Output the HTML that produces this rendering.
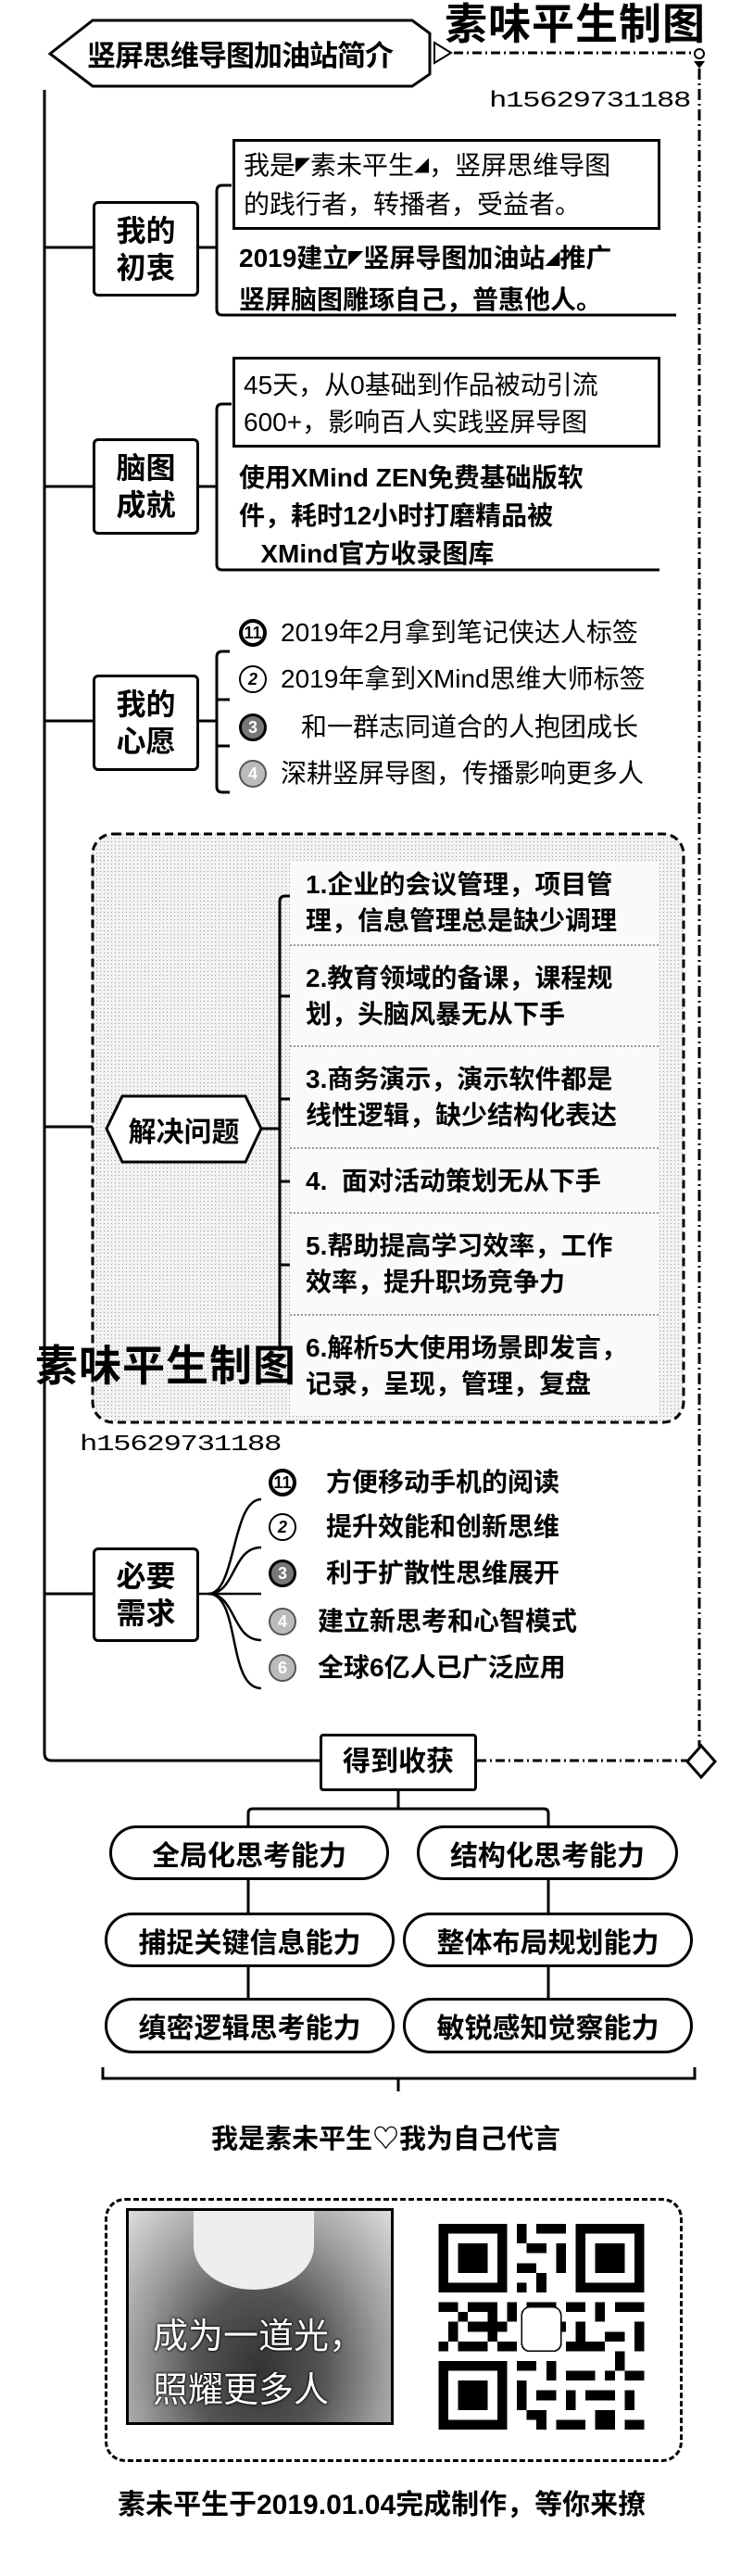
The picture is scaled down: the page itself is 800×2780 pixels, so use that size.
<!DOCTYPE html>
<html><head><meta charset="utf-8">
<style>
*{margin:0;padding:0;box-sizing:border-box}
body{width:800px;height:2780px;background:#fff;position:relative;overflow:hidden;font-family:"Liberation Sans","Noto Sans CJK SC",sans-serif;color:#000}
.a{position:absolute;white-space:nowrap}
.b{font-weight:bold}
.node{position:absolute;border:3px solid #000;border-radius:6px;background:#fff;font-weight:bold;font-size:32px;line-height:40px;text-align:center;display:flex;align-items:center;justify-content:center}
.tb{position:absolute;border:3px solid #000;background:#fff;font-size:28px;line-height:40px;padding-left:9px;padding-top:8px}
.t{font-size:28px;line-height:40px}
.pill{position:absolute;border:3px solid #000;border-radius:30px;background:#fff;font-weight:bold;font-size:30px;display:flex;align-items:center;justify-content:center}
.it{position:absolute;left:313px;width:398px;background:#fafafa;border-bottom:2px dotted #999;font-weight:bold;font-size:28px;line-height:39px;padding-left:17px;display:flex;flex-direction:column;justify-content:center}
.c{position:absolute;width:30px;height:30px;border-radius:50%;font-size:18px;font-weight:bold;display:flex;align-items:center;justify-content:center}
.sm{font-size:16px;vertical-align:middle}
.hn{font-size:24px;line-height:28px;font-family:'Liberation Mono',monospace;letter-spacing:-1px;transform:scaleX(1.35);transform-origin:0 0}
</style></head><body>

<svg class="a" style="left:0;top:0" width="800" height="2780">
<polygon points="54,58 100,22 445,22 464,36 464,80 445,93 100,93" fill="#fff" stroke="#000" stroke-width="3"/>
<polygon points="469,46 487,57 469,68" fill="#fff" stroke="#000" stroke-width="2"/>
<line x1="490" y1="57" x2="752" y2="57" stroke="#000" stroke-width="3" stroke-dasharray="10,4,2,4"/>
<circle cx="755" cy="58" r="5" fill="#fff" stroke="#000" stroke-width="2"/>
<polygon points="749,66 761,66 755,74" fill="#000"/>
<line x1="755" y1="74" x2="755" y2="1885" stroke="#000" stroke-width="3" stroke-dasharray="12,4,2,4"/>
<path d="M48,97 V1892 Q48,1900 56,1900 H345" fill="none" stroke="#000" stroke-width="3"/>
<line x1="48" y1="267" x2="100" y2="267" stroke="#000" stroke-width="3"/>
<line x1="48" y1="525" x2="100" y2="525" stroke="#000" stroke-width="3"/>
<line x1="48" y1="778" x2="100" y2="778" stroke="#000" stroke-width="3"/>
<line x1="48" y1="1216" x2="115" y2="1216" stroke="#000" stroke-width="3"/>
<line x1="48" y1="1720" x2="100" y2="1720" stroke="#000" stroke-width="3"/>
<line x1="215" y1="267" x2="234" y2="267" stroke="#000" stroke-width="3"/>
<path d="M250,200 H240 Q234,200 234,206 V334 Q234,340 240,340 H730" fill="none" stroke="#000" stroke-width="3"/>
<line x1="215" y1="525" x2="234" y2="525" stroke="#000" stroke-width="3"/>
<path d="M250,436 H240 Q234,436 234,442 V609 Q234,615 240,615 H712" fill="none" stroke="#000" stroke-width="3"/>
<line x1="215" y1="778" x2="234" y2="778" stroke="#000" stroke-width="3"/>
<path d="M248,703 H240 Q234,703 234,709 V849 Q234,855 240,855 H248 M234,755 H248 M234,805 H248" fill="none" stroke="#000" stroke-width="3"/>
<defs><pattern id="dots" width="4" height="4" patternUnits="userSpaceOnUse"><rect width="4" height="4" fill="#f2f2f2"/><rect width="1" height="1" fill="#999"/></pattern></defs>
<rect x="100" y="900" width="638" height="635" rx="22" fill="url(#dots)" stroke="#000" stroke-width="3" stroke-dasharray="9,5"/>
</svg>

<div class="a b" style="left:54px;top:22px;width:410px;height:71px;font-size:31px;display:flex;align-items:center;justify-content:center;letter-spacing:-1px">竖屏思维导图加油站简介</div>
<div class="a b" style="left:480px;top:0px;font-size:46px;line-height:52px;letter-spacing:1px">素味平生制图</div>
<div class="a hn" style="left:528px;top:96px">h15629731188</div>

<div class="node" style="left:100px;top:217px;width:115px;height:103px">我的<br>初衷</div>
<div class="tb" style="left:251px;top:150px;width:462px;height:98px;padding-top:6px">我是<span class="sm">◤</span>素未平生<span class="sm">◢</span>，竖屏思维导图<br>的践行者，转播者，受益者。</div>
<div class="a b t" style="left:258px;top:257px;line-height:43px">2019建立<span class="sm">◤</span>竖屏导图加油站<span class="sm">◢</span>推广<br>竖屏脑图雕琢自己，普惠他人。</div>

<div class="node" style="left:100px;top:473px;width:115px;height:104px">脑图<br>成就</div>
<div class="tb" style="left:251px;top:385px;width:462px;height:98px">45天，从0基础到作品被动引流<br>600+，影响百人实践竖屏导图</div>
<div class="a b t" style="left:258px;top:495px;line-height:41px">使用XMind ZEN免费基础版软<br>件，耗时12小时打磨精品被<br>&nbsp;&nbsp;&nbsp;XMind官方收录图库</div>

<div class="node" style="left:100px;top:728px;width:115px;height:104px">我的<br>心愿</div>
<div class="c" style="left:258px;top:668px;border:4px solid #000">11</div>
<div class="a t" style="left:303px;top:663px">2019年2月拿到笔记侠达人标签</div>
<div class="c" style="left:258px;top:718px;border:2px solid #000;font-style:italic">2</div>
<div class="a t" style="left:303px;top:713px">2019年拿到XMind思维大师标签</div>
<div class="c" style="left:258px;top:770px;border:3px solid #000;background:#777;color:#fff">3</div>
<div class="a t" style="left:325px;top:765px">和一群志同道合的人抱团成长</div>
<div class="c" style="left:258px;top:820px;border:2px solid #555;background:#bbb;color:#fff">4</div>
<div class="a t" style="left:303px;top:815px">深耕竖屏导图，传播影响更多人</div>

<div class="it" style="top:929px;height:92px">1.企业的会议管理，项目管<br>理，信息管理总是缺少调理</div>
<div class="it" style="top:1021px;height:109px"><span>2.教育领域的备课，课程规<br>划，头脑风暴无从下手</span></div>
<div class="it" style="top:1130px;height:110px"><span>3.商务演示，演示软件都是<br>线性逻辑，缺少结构化表达</span></div>
<div class="it" style="top:1240px;height:70px"><span>4.&nbsp;&nbsp;面对活动策划无从下手</span></div>
<div class="it" style="top:1310px;height:110px"><span>5.帮助提高学习效率，工作<br>效率，提升职场竞争力</span></div>
<div class="it" style="top:1420px;height:108px;border-bottom:none"><span>6.解析5大使用场景即发言，<br>记录，呈现，管理，复盘</span></div>
<svg class="a" style="left:0;top:0" width="800" height="2780">
<line x1="282" y1="1218" x2="302" y2="1218" stroke="#000" stroke-width="3"/>
<path d="M313,967 H308 Q302,967 302,973 V1458 M302,1075 H313 M302,1186 H313 M302,1275 H313 M302,1365 H313" fill="none" stroke="#000" stroke-width="3"/>
<polygon points="115,1218 132,1183 265,1183 282,1218 265,1254 132,1254" fill="#fff" stroke="#000" stroke-width="3"/>
</svg>
<div class="a b" style="left:115px;top:1183px;width:167px;height:71px;font-size:30px;display:flex;align-items:center;justify-content:center">解决问题</div>
<div class="a b" style="left:38px;top:1448px;font-size:46px;line-height:52px;letter-spacing:1px">素味平生制图</div>
<div class="a hn" style="left:86px;top:1546px">h15629731188</div>

<svg class="a" style="left:0;top:0" width="800" height="2780">
<g fill="none" stroke="#000" stroke-width="2.5">
<line x1="215" y1="1720" x2="282" y2="1720"/>
<path d="M225,1720 C255,1720 250,1618 282,1618"/>
<path d="M225,1720 C255,1720 250,1670 282,1670"/>
<path d="M225,1720 C255,1720 250,1770 282,1770"/>
<path d="M225,1720 C260,1720 245,1822 282,1822"/>
</g>
<line x1="515" y1="1900" x2="742" y2="1900" stroke="#000" stroke-width="3" stroke-dasharray="10,4,2,4"/>
<polygon points="757,1884 772,1901 757,1918 742,1901" fill="#fff" stroke="#000" stroke-width="3"/>
<g fill="none" stroke="#000" stroke-width="3">
<path d="M430,1933 V1952 M268,1970 V1957 Q268,1952 273,1952 H587 Q592,1952 592,1957 V1970"/>
<line x1="268" y1="2029" x2="268" y2="2064"/>
<line x1="592" y1="2029" x2="592" y2="2064"/>
<line x1="268" y1="2123" x2="268" y2="2156"/>
<line x1="592" y1="2123" x2="592" y2="2156"/>
<path d="M111,2231 V2243 H750 V2231 M430,2243 V2257"/>
</g>
</svg>
<div class="node" style="left:100px;top:1670px;width:115px;height:102px">必要<br>需求</div>
<div class="c" style="left:290px;top:1585px;border:4px solid #000">11</div>
<div class="a b t" style="left:352px;top:1580px">方便移动手机的阅读</div>
<div class="c" style="left:290px;top:1633px;border:2px solid #000;font-style:italic">2</div>
<div class="a b t" style="left:352px;top:1628px">提升效能和创新思维</div>
<div class="c" style="left:290px;top:1683px;border:3px solid #000;background:#777;color:#fff">3</div>
<div class="a b t" style="left:352px;top:1678px">利于扩散性思维展开</div>
<div class="c" style="left:290px;top:1735px;border:2px solid #555;background:#bbb;color:#fff">4</div>
<div class="a b t" style="left:343px;top:1730px">建立新思考和心智模式</div>
<div class="c" style="left:290px;top:1785px;border:2px solid #555;background:#bbb;color:#fff">6</div>
<div class="a b t" style="left:343px;top:1780px">全球6亿人已广泛应用</div>

<div class="node" style="left:345px;top:1871px;width:170px;height:62px;border-radius:4px;font-size:30px">得到收获</div>
<div class="pill" style="left:118px;top:1970px;width:302px;height:59px">全局化思考能力</div>
<div class="pill" style="left:450px;top:1970px;width:282px;height:59px">结构化思考能力</div>
<div class="pill" style="left:113px;top:2064px;width:313px;height:59px">捕捉关键信息能力</div>
<div class="pill" style="left:435px;top:2064px;width:313px;height:59px">整体布局规划能力</div>
<div class="pill" style="left:113px;top:2156px;width:313px;height:60px">缜密逻辑思考能力</div>
<div class="pill" style="left:435px;top:2156px;width:313px;height:60px">敏锐感知觉察能力</div>

<div class="a b" style="left:228px;top:2291px;font-size:29px;line-height:36px">我是素未平生♡我为自己代言</div>

<div class="a" style="left:113px;top:2372px;width:624px;height:285px;border:3px dashed #000;border-radius:22px"></div>
<div class="a" style="left:136px;top:2383px;width:289px;height:234px;border:3px solid #000;overflow:hidden;background:radial-gradient(ellipse at 50% 75%,#333 0%,#555 35%,#999 65%,#ddd 100%)">
<div class="a" style="left:70px;top:-10px;width:130px;height:95px;background:#eee;border-radius:0 0 50% 50%"></div>
<div class="a" style="left:26px;top:107px;font-size:38px;line-height:58px;color:#fff;text-shadow:0 0 3px #000,0 0 2px #000">成为一道光，<br>照耀更多人</div>
</div>
<svg class="a" style="left:472px;top:2400px" width="225" height="222" viewBox="0 0 21 21" shape-rendering="crispEdges">
<g fill="#000">
<path d="M0,0h7v7h-7zM1,1v5h5v-5zM2,2h3v3h-3z" fill-rule="evenodd"/>
<path d="M14,0h7v7h-7zM15,1v5h5v-5zM16,2h3v3h-3z" fill-rule="evenodd"/>
<path d="M0,14h7v7h-7zM1,15v5h5v-5zM2,16h3v3h-3z" fill-rule="evenodd"/>
<rect x="8" y="0" width="1" height="2"/><rect x="10" y="0" width="3" height="1"/><rect x="9" y="2" width="2" height="1"/><rect x="12" y="2" width="1" height="3"/><rect x="8" y="4" width="2" height="1"/><rect x="10" y="5" width="1" height="2"/><rect x="8" y="6" width="1" height="1"/>
<rect x="0" y="8" width="2" height="1"/><rect x="3" y="8" width="3" height="1"/><rect x="7" y="8" width="1" height="2"/><rect x="9" y="8" width="3" height="1"/><rect x="13" y="8" width="2" height="1"/><rect x="16" y="8" width="1" height="2"/><rect x="18" y="8" width="3" height="1"/>
<rect x="1" y="10" width="1" height="2"/><rect x="3" y="10" width="2" height="1"/><rect x="5" y="9" width="1" height="3"/><rect x="11" y="10" width="2" height="1"/><rect x="14" y="10" width="1" height="2"/><rect x="17" y="11" width="2" height="1"/><rect x="20" y="10" width="1" height="3"/>
<rect x="0" y="12" width="1" height="1"/><rect x="2" y="12" width="3" height="1"/><rect x="6" y="12" width="2" height="1"/><rect x="13" y="12" width="3" height="1"/><rect x="18" y="13" width="1" height="2"/>
<rect x="8" y="14" width="2" height="1"/><rect x="11" y="14" width="1" height="2"/><rect x="13" y="15" width="3" height="1"/><rect x="17" y="15" width="1" height="1"/><rect x="19" y="15" width="2" height="1"/>
<rect x="8" y="16" width="1" height="3"/><rect x="10" y="17" width="2" height="1"/><rect x="13" y="17" width="1" height="2"/><rect x="15" y="17" width="3" height="1"/><rect x="19" y="17" width="1" height="2"/>
<rect x="9" y="19" width="2" height="1"/><rect x="12" y="20" width="3" height="1"/><rect x="16" y="19" width="2" height="2"/><rect x="19" y="20" width="2" height="1"/><rect x="10" y="20" width="1" height="1"/>
<rect x="2" y="9" width="1" height="1"/><rect x="6" y="10" width="1" height="1"/><rect x="16" y="12" width="1" height="1"/>
</g>
<rect x="8.5" y="8.5" width="4" height="4.5" rx="0.8" fill="#fff" stroke="#000" stroke-width="0.15"/>
</svg>

<div class="a" style="left:127px;top:2686px;font-size:30px;line-height:36px;font-weight:bold">素未平生于2019.01.04完成制作，等你来撩</div>
</body></html>
